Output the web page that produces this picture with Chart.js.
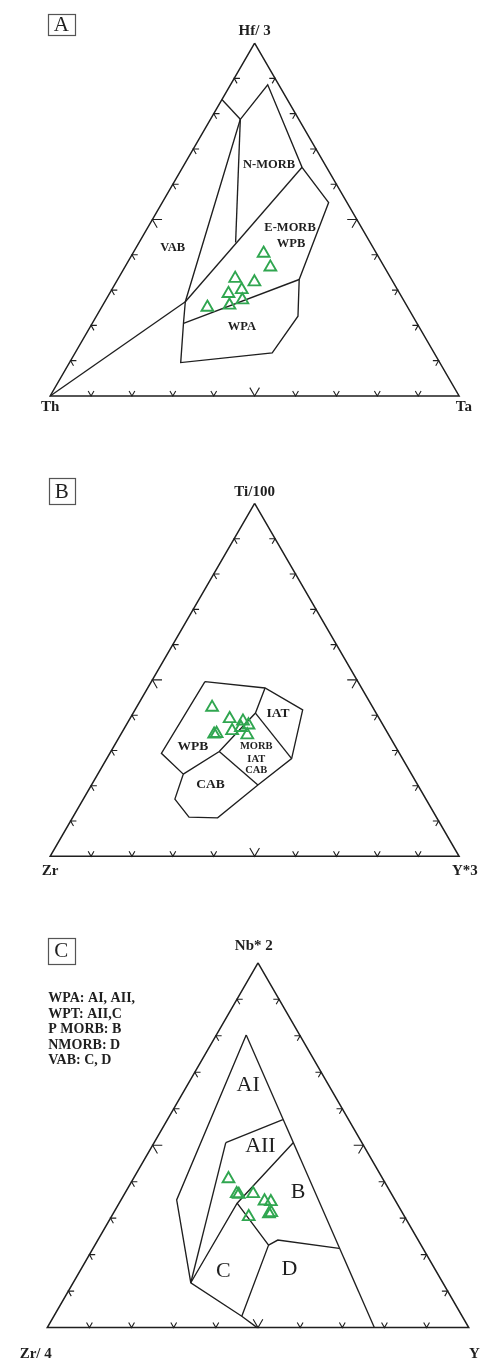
<!DOCTYPE html>
<html><head><meta charset="utf-8">
<script src="https://cdn.jsdelivr.net/npm/chart.js@4.4.1/dist/chart.umd.min.js"></script>
<style>
html,body{margin:0;padding:0;background:#fff;}
body{width:489px;height:1371px;position:relative;overflow:hidden;}
canvas{position:absolute;left:0;}
</style></head><body>
<canvas id="cA" style="top:0px" width="489" height="445"></canvas>
<canvas id="cB" style="top:445px" width="489" height="445"></canvas>
<canvas id="cC" style="top:890px" width="489" height="481"></canvas>
<script>
// ---------- DATA (ternary values in %, given as [apex %, right-corner %]) ----------
// Panel A: Hf/3 (apex) – Th (left) – Ta (right)
const axisLabelsA = ['Hf/ 3', 'Th', 'Ta'];
const samplesA_Hf = [40.4, 36.5, 33.3, 32.3, 29.0, 30.1, 27.2, 25.7, 25.1];
const samplesA_Ta = [32.0, 35.6, 28.6, 33.8, 29.1, 31.8, 33.4, 31.0, 25.9];
const fieldLinesA = [
  [[84, 0], [78.4, 7.3]],
  [[78.4, 7.3], [88.2, 9.1], [64.8, 29.2], [54.8, 40.7], [33.0, 44.4], [22.6, 49.3], [12.2, 48.2], [9.45, 27.2], [20.6, 22.3], [26.7, 19.7], [78.4, 7.3]],
  [[78.4, 7.3], [43.5, 23.6]],
  [[64.8, 29.2], [26.7, 19.7]],
  [[0, 0], [26.7, 19.7]],
  [[20.6, 22.3], [33.0, 44.4]]
];
const fieldNamesA = ['N-MORB', 'E-MORB', 'WPB', 'VAB', 'WPA'];

// Panel B: Ti/100 (apex) – Zr (left) – Y*3 (right)
const axisLabelsB = ['Ti/100', 'Zr', 'Y*3'];
const samplesB_Ti = [42.2, 39.0, 38.3, 37.2, 34.8, 35.6, 34.4, 36.5, 34.6];
const samplesB_Y3 = [18.5, 24.4, 28.0, 29.9, 23.3, 26.7, 31.0, 28.4, 22.8];
const fieldLinesB = [
  [[49.5, 13.1], [47.7, 28.7], [41.5, 41.0], [27.7, 45.2], [20.2, 40.7], [10.9, 35.5], [11.1, 28.4], [16.2, 22.4], [23.3, 20.9], [29.2, 12.6], [49.5, 13.1]],
  [[47.7, 28.7], [40.6, 29.9], [35.6, 28.3], [29.7, 26.5], [23.3, 20.9]],
  [[40.6, 29.9], [27.7, 45.2]],
  [[29.7, 26.5], [20.2, 40.7]]
];
const fieldNamesB = ['IAT', 'WPB', 'MORB', 'IAT', 'CAB', 'CAB'];

// Panel C: Nb*2 (apex) – Zr/4 (left) – Y (right)
const axisLabelsC = ['Nb* 2', 'Zr/ 4', 'Y'];
const samplesC_Nb = [40.8, 36.7, 36.5, 36.7, 34.7, 34.5, 31.5, 31.2, 30.4];
const samplesC_Y = [22.6, 26.6, 27.2, 30.5, 34.2, 35.8, 37.4, 37.0, 32.6];
const fieldLinesC = [
  [[80.2, 7.1], [0, 77.6]],
  [[80.2, 7.1], [35.0, 13.2], [12.3, 27.9], [3.1, 44.6], [0, 49.8]],
  [[50.7, 17.0], [57.0, 27.4]],
  [[50.7, 17.0], [12.3, 27.9]],
  [[50.7, 33.0], [34.1, 28.0], [12.3, 27.9]],
  [[34.1, 28.0], [22.6, 41.2], [3.1, 44.6]],
  [[22.6, 41.2], [24.0, 42.7], [21.7, 58.4]]
];
const fieldNamesC = ['AI', 'AII', 'B', 'C', 'D'];
const legendLinesC = ['WPA: AI, AII,', 'WPT: AII,C', 'P MORB: B', 'NMORB: D', 'VAB: C, D'];

const tickFractions = [0.1, 0.2, 0.3, 0.4, 0.5, 0.6, 0.7, 0.8, 0.9];

// ---------- RENDERING ----------
const SQ = Math.sqrt(3) / 2;
const INK = '#1f1f1f';
const GREEN = '#30a650';
const SERIF = '"Liberation Serif", "Times New Roman", serif';
function cart(p) { const t = p[0] / 100, r = p[1] / 100; return { x: r + 0.5 * t, y: t * SQ }; }
function lineDs(pts, w) {
  return { data: pts, showLine: true, pointRadius: 0, borderColor: INK, borderWidth: w, tension: 0, fill: false };
}

const textPlugin = {
  id: 'texts',
  afterDatasetsDraw(chart, args, opts) {
    const { ctx } = chart; const sx = chart.scales.x, sy = chart.scales.y;
    ctx.save();
    ctx.fillStyle = INK; ctx.textBaseline = 'middle';
    for (const l of opts.labels) {
      ctx.font = l.font; ctx.textAlign = l.align || 'center';
      ctx.fillText(l.text, sx.getPixelForValue(l.x), sy.getPixelForValue(l.y));
    }
    const b = opts.box;
    if (b) {
      const cx = sx.getPixelForValue(b.x), cy = sy.getPixelForValue(b.y);
      ctx.strokeStyle = '#555'; ctx.lineWidth = 1.2;
      ctx.strokeRect(Math.round(cx - b.w / 2) + 0.5, Math.round(cy - b.h / 2) + 0.5, b.w, b.h);
      ctx.font = '21px ' + SERIF; ctx.textAlign = 'center';
      ctx.fillText(b.text, cx, cy + 1);
    }
    ctx.restore();
  }
};

function buildPanel(id, frame, top, right, lines, labels, box) {
  const { Lx, baseY, s, top: ctop, h } = frame;
  const ymax = (baseY - ctop) / s, ymin = ymax - h / s;
  const xmin = -Lx / s, xmax = (489 - Lx) / s;
  const datasets = [];
  const pts = top.map((t, i) => cart([t, right[i]]));
  datasets.push({ data: pts, showLine: false, pointStyle: 'triangle', pointRadius: 6.8, borderColor: GREEN, backgroundColor: 'rgba(0,0,0,0)', borderWidth: 1.9 });
  datasets.push(lineDs([[100, 0], [0, 0], [0, 100], [100, 0]].map(cart), 1.5));
  for (const t of tickFractions) {
    const l = (t === 0.5 ? 10 : 6) / s;
    let v = { x: t, y: 0 };
    datasets.push(lineDs([{ x: v.x - 0.5 * l, y: SQ * l }, v, { x: v.x + 0.5 * l, y: SQ * l }], 1.1));
    v = { x: 0.5 * t, y: SQ * t };
    datasets.push(lineDs([{ x: v.x + l, y: v.y }, v, { x: v.x + 0.5 * l, y: v.y - SQ * l }], 1.1));
    v = { x: 1 - 0.5 * t, y: SQ * t };
    datasets.push(lineDs([{ x: v.x - l, y: v.y }, v, { x: v.x - 0.5 * l, y: v.y - SQ * l }], 1.1));
  }
  for (const ln of lines) datasets.push(lineDs(ln.map(cart), 1.35));
  new Chart(document.getElementById(id), {
    type: 'scatter',
    data: { datasets },
    options: {
      responsive: false, animation: false, events: [],
      layout: { padding: 0 },
      scales: {
        x: { type: 'linear', min: xmin, max: xmax, display: false },
        y: { type: 'linear', min: ymin, max: ymax, display: false }
      },
      plugins: { legend: { display: false }, tooltip: { enabled: false }, texts: { labels, box } }
    },
    plugins: [textPlugin]
  });
}

const AX = 'bold 15px ' + SERIF;
const FA = 'bold 12.5px ' + SERIF;
buildPanel('cA', { Lx: 43, baseY: 403, s: 424, top: 0, h: 445 }, samplesA_Hf, samplesA_Ta, fieldLinesA, [
  { text: axisLabelsA[0], x: 0.5, y: 0.8962, font: AX },
  { text: axisLabelsA[1], x: 0.0, y: -0.0283, font: AX },
  { text: axisLabelsA[2], x: 1.0118, y: -0.0283, font: AX },
  { text: fieldNamesA[0], x: 0.5354, y: 0.5677, font: FA },
  { text: fieldNamesA[1], x: 0.5866, y: 0.412, font: FA },
  { text: fieldNamesA[2], x: 0.5889, y: 0.3743, font: FA },
  { text: fieldNamesA[3], x: 0.2995, y: 0.3649, font: FA },
  { text: fieldNamesA[4], x: 0.4686, y: 0.1698, font: FA }
], { text: 'A', x: 0.0271, y: 0.9116, w: 27, h: 21 });

const FB = 'bold 13.5px ' + SERIF, FBs = 'bold 10.5px ' + SERIF;
buildPanel('cB', { Lx: 43, baseY: 864, s: 424, top: 445, h: 445 }, samplesB_Ti, samplesB_Y3, fieldLinesB, [
  { text: axisLabelsB[0], x: 0.5, y: 0.8939, font: AX },
  { text: axisLabelsB[1], x: 0.0, y: -0.0354, font: AX },
  { text: axisLabelsB[2], x: 1.014, y: -0.0354, font: AX },
  { text: fieldNamesB[0], x: 0.5573, y: 0.3498, font: FB },
  { text: fieldNamesB[1], x: 0.349, y: 0.2689, font: FB },
  { text: fieldNamesB[2], x: 0.504, y: 0.2689, font: FBs },
  { text: fieldNamesB[3], x: 0.504, y: 0.2375, font: FBs },
  { text: fieldNamesB[4], x: 0.504, y: 0.2123, font: FBs },
  { text: fieldNamesB[5], x: 0.3922, y: 0.1769, font: FB }
], { text: 'B', x: 0.0283, y: 0.8962, w: 26, h: 26 });

const FC = '22px ' + SERIF, FL = 'bold 14px ' + SERIF;
buildPanel('cC', { Lx: 40, baseY: 1335, s: 437, top: 890, h: 481 }, samplesC_Nb, samplesC_Y, fieldLinesC, [
  { text: axisLabelsC[0], x: 0.49, y: 0.9062, font: AX },
  { text: axisLabelsC[1], x: -0.0275, y: -0.0618, font: AX },
  { text: axisLabelsC[2], x: 1.0137, y: -0.0618, font: AX },
  { text: fieldNamesC[0], x: 0.4767, y: 0.5744, font: FC },
  { text: fieldNamesC[1], x: 0.5057, y: 0.4309, font: FC },
  { text: fieldNamesC[2], x: 0.595, y: 0.3204, font: FC },
  { text: fieldNamesC[3], x: 0.418, y: 0.1334, font: FC },
  { text: fieldNamesC[4], x: 0.5744, y: 0.1389, font: FC },
  ...legendLinesC.map((t, i) => ({ text: t, x: 0.0023, y: [0.7826, 0.7437, 0.7071, 0.6705, 0.6339][i], font: FL, align: 'left' }))
], { text: 'C', x: 0.0332, y: 0.8947, w: 27, h: 26 });
</script>
</body></html>
